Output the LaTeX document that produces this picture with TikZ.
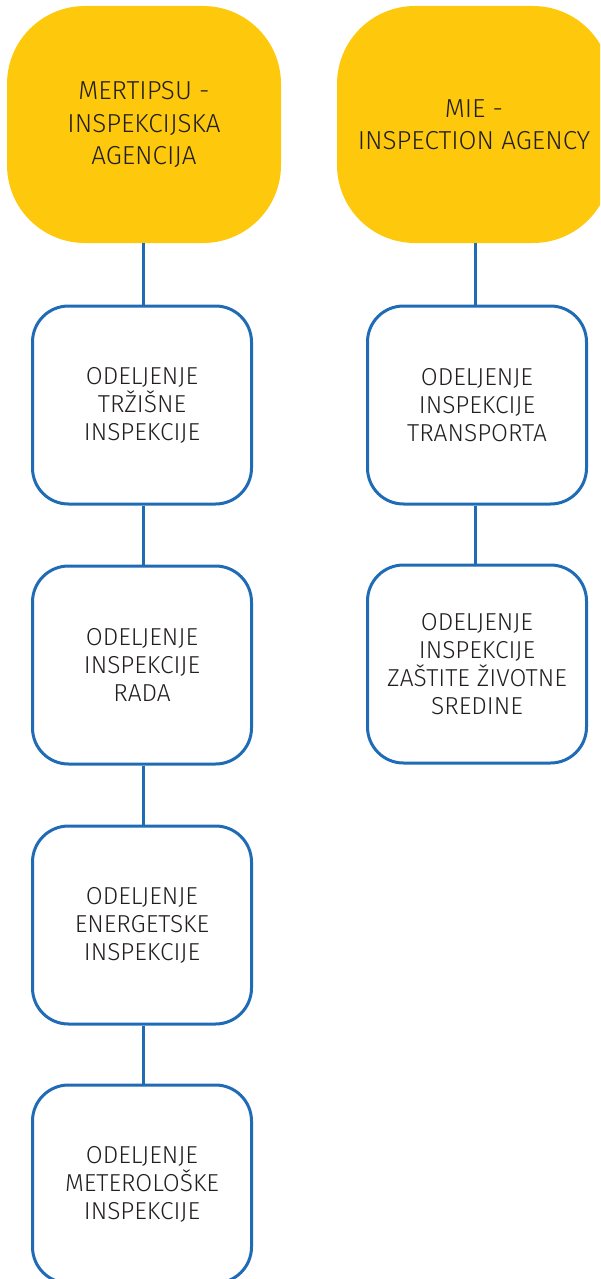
\documentclass[tikz,border=0pt]{standalone}
\usepackage{fontspec}
\setmainfont{Fira Sans}[UprightFont=* Light]
\definecolor{headyellow}{HTML}{FEC90C}
\definecolor{lineblue}{HTML}{1F6BB5}
\definecolor{textdark}{HTML}{231F20}
\begin{document}
\begin{tikzpicture}[x=1pt,y=-1pt,
  head/.style={fill=headyellow, draw=none, rounded corners=78pt, minimum width=274pt, minimum height=237pt, inner sep=0pt, align=center, text=textdark, font=\fontsize{26}{32.5}\selectfont},
  dept/.style={draw=lineblue, line width=3pt, fill=white, rounded corners=36pt, minimum width=219pt, minimum height=198pt, inner sep=0pt, align=center, text=textdark, font=\fontsize{24.5}{28}\selectfont},
  link/.style={draw=lineblue, line width=3pt}]
\useasboundingbox (0,0) rectangle (600,1279);
\clip (0,0) rectangle (600,1279);
\node[head] (h1) at (144,124.5) {MERTIPSU -\\INSPEKCIJSKA\\AGENCIJA};
\node[head] (h2) at (474,124.5) {MIE -\\INSPECTION AGENCY};
\node[dept] (d1) at (142,405) {ODELJENJE\\TRŽIŠNE\\INSPEKCIJE};
\node[dept] (d2) at (142,665) {ODELJENJE\\INSPEKCIJE\\RADA};
\node[dept] (d3) at (142,925) {ODELJENJE\\ENERGETSKE\\INSPEKCIJE};
\node[dept] (d4) at (142,1184) {ODELJENJE\\METEROLOŠKE\\INSPEKCIJE};
\node[dept] (r1) at (477,405) {ODELJENJE\\INSPEKCIJE\\TRANSPORTA};
\node[dept] (r2) at (477,664) {ODELJENJE\\INSPEKCIJE\\ZAŠTITE ŽIVOTNE\\SREDINE};
\draw[link] (h1.south -| 143,0) -- (d1.north -| 143,0);
\draw[link] (d1.south -| 143,0) -- (d2.north -| 143,0);
\draw[link] (d2.south -| 143,0) -- (d3.north -| 143,0);
\draw[link] (d3.south -| 143,0) -- (d4.north -| 143,0);
\draw[link] (h2.south -| 475,0) -- (r1.north -| 475,0);
\draw[link] (r1.south -| 475,0) -- (r2.north -| 475,0);
\end{tikzpicture}
\end{document}
